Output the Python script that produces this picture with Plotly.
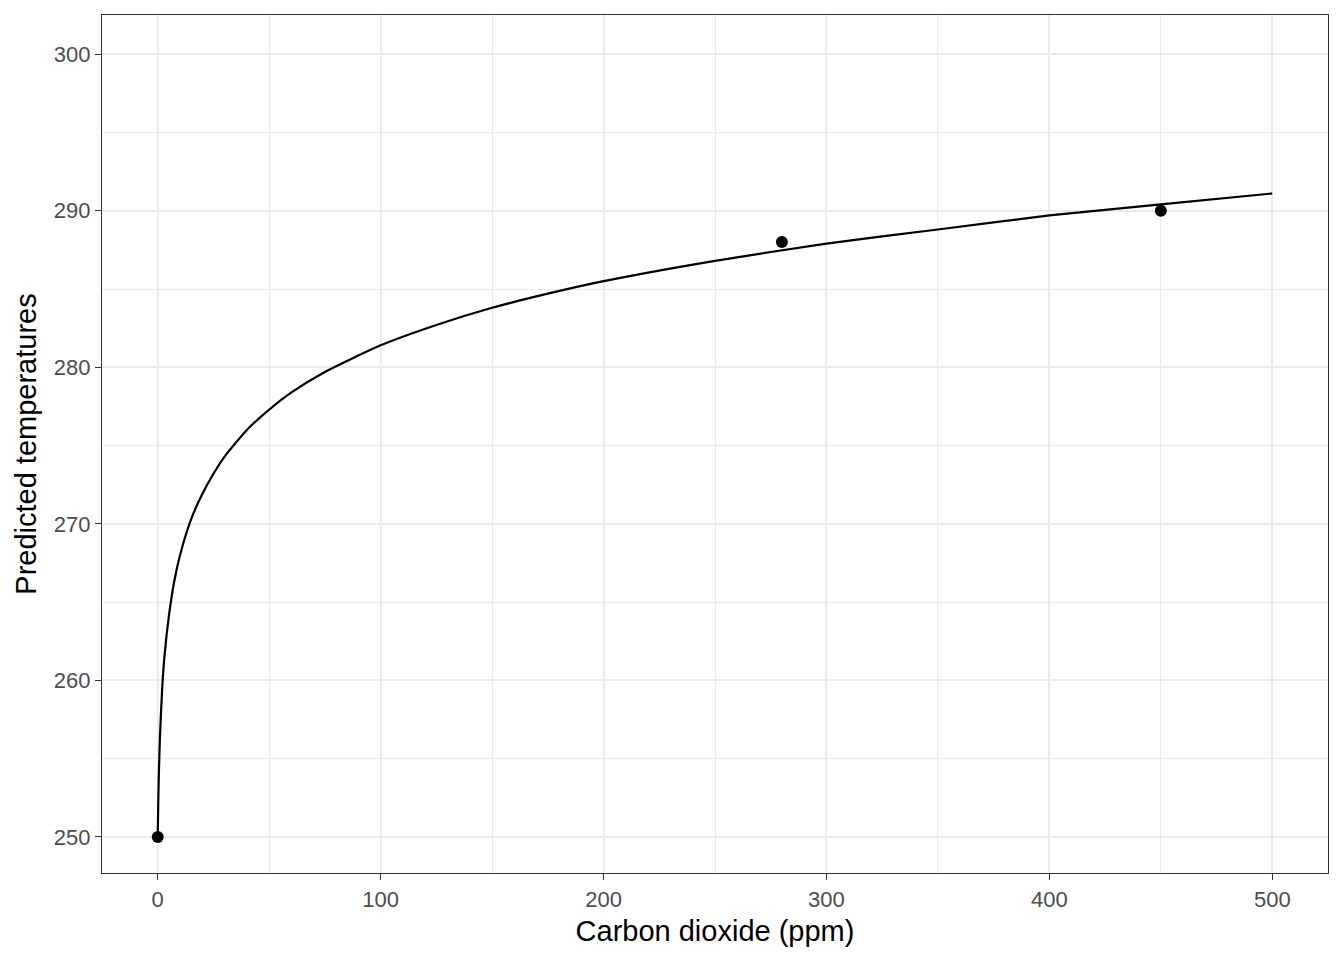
import plotly.graph_objects as go

# fitted curve
co2_curve = [0, 0.25, 0.5, 1, 2, 3, 5, 7.5, 10, 15, 20, 25, 30, 40, 50, 60, 75,
             100, 125, 150, 175, 200, 250, 300, 350, 400, 450, 500]
temp_curve = [250.0, 252.3, 254.0, 256.4, 259.5, 261.5, 264.1, 266.4, 268.0, 270.3,
              271.9, 273.2, 274.3, 276.0, 277.3, 278.4, 279.7, 281.4, 282.7, 283.8,
              284.7, 285.5, 286.8, 287.9, 288.8, 289.7, 290.4, 291.1]

# observed points
co2_obs = [0, 280, 450]
temp_obs = [250, 288, 290]

FONT = "Liberation Sans, Arial, sans-serif"

fig = go.Figure()
fig.add_trace(go.Scatter(
    x=co2_curve, y=temp_curve, mode="lines",
    line=dict(color="black", width=2.2, shape="spline", smoothing=0.6),
    hoverinfo="skip",
))
fig.add_trace(go.Scatter(
    x=co2_obs, y=temp_obs, mode="markers",
    marker=dict(color="black", size=12),
))

axis_common = dict(
    showline=True, linecolor="#333333", linewidth=1.2, mirror=True,
    ticks="outside", ticklen=6, tickcolor="#333333", tickwidth=1.2,
    tickfont=dict(family=FONT, size=22, color="#4D4D4D"),
    gridcolor="#EBEBEB", gridwidth=2, zeroline=False,
    title_font=dict(family=FONT, size=29, color="black"),
)

# page body has an 8px margin, so the figure is shrunk by that amount
fig.update_layout(
    width=1336, height=952,
    margin=dict(l=94, r=16, t=7, b=87),
    paper_bgcolor="white", plot_bgcolor="white",
    showlegend=False,
    xaxis=dict(
        range=[-25, 525], tickvals=[0, 100, 200, 300, 400, 500],
        minor=dict(tickvals=[50, 150, 250, 350, 450], showgrid=True,
                   gridcolor="#EBEBEB", gridwidth=1, ticks=""),
        title=dict(text="Carbon dioxide (ppm)", standoff=10),
        **axis_common,
    ),
    yaxis=dict(
        range=[247.7, 302.5], tickvals=[250, 260, 270, 280, 290, 300],
        minor=dict(tickvals=[255, 265, 275, 285, 295], showgrid=True,
                   gridcolor="#EBEBEB", gridwidth=1, ticks=""),
        title=dict(text="Predicted temperatures", standoff=8),
        **axis_common,
    ),
)

fig.write_html("out.html")
